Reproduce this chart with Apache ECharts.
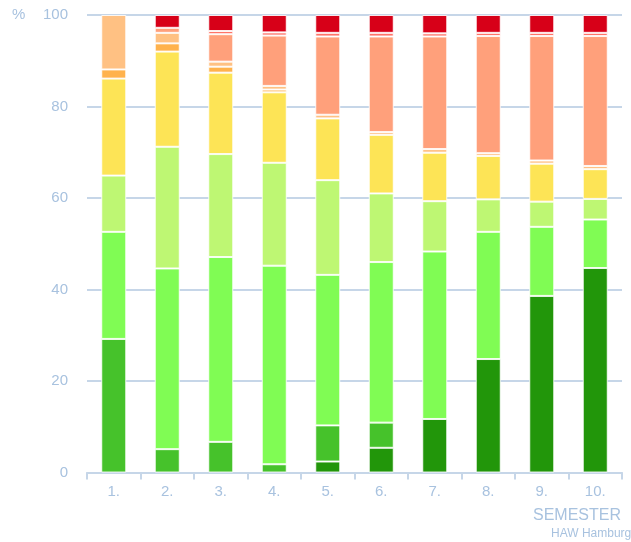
<!DOCTYPE html>
<html>
<head>
<meta charset="utf-8">
<script src="https://cdn.jsdelivr.net/npm/echarts@6/dist/echarts.min.js"></script>
<style>
  html, body { margin: 0; padding: 0; background: #ffffff; }
  #chart { width: 631px; height: 542px; }
</style>
</head>
<body>
<div id="chart"></div>
<script>
// Semesters on the x axis; shares in percent, stacked bottom -> top
const semesters = ['1.', '2.', '3.', '4.', '5.', '6.', '7.', '8.', '9.', '10.'];
const yTicks = [0, 20, 40, 60, 80, 100];

const darkGreen   = [0, 0, 0, 0, 2.4, 5.4, 11.7, 24.8, 38.6, 44.7];
const midGreen    = [29.2, 5.1, 6.7, 1.8, 7.9, 5.5, 0, 0, 0, 0];
const lightGreen  = [23.4, 39.5, 40.4, 43.4, 32.9, 35.1, 36.6, 27.8, 15.1, 10.6];
const yellowGreen = [12.3, 26.6, 22.5, 22.5, 20.7, 15.0, 11.0, 7.1, 5.5, 4.5];
const yellow      = [21.2, 20.8, 17.8, 15.4, 13.5, 12.8, 10.6, 9.5, 8.3, 6.5];
const orange      = [2.0, 1.8, 1.3, 0.6, 0, 0, 0, 0, 0, 0];
const lightOrange = [11.9, 2.3, 1.1, 0.8, 0.8, 0.6, 0.8, 0.6, 0.7, 0.7];
const salmon      = [0, 1.1, 6.0, 11.0, 17.1, 20.9, 24.6, 25.6, 27.2, 28.4];
const coral       = [0, 0, 0.7, 0.7, 0.8, 0.8, 0.7, 0.7, 0.7, 0.7];
const red         = [0, 2.8, 3.5, 3.8, 3.9, 3.9, 4.0, 3.9, 3.9, 3.9];

const stacks = [
  { name: 'darkGreen', data: darkGreen, color: '#22960a' },
  { name: 'midGreen', data: midGreen, color: '#46c22b' },
  { name: 'lightGreen', data: lightGreen, color: '#80fc54' },
  { name: 'yellowGreen', data: yellowGreen, color: '#bef773' },
  { name: 'yellow', data: yellow, color: '#fde456' },
  { name: 'orange', data: orange, color: '#ffb24c' },
  { name: 'lightOrange', data: lightOrange, color: '#ffc183' },
  { name: 'salmon', data: salmon, color: '#ffa07b' },
  { name: 'coral', data: coral, color: '#ff7468' },
  { name: 'red', data: red, color: '#d70018' },
];

const INK = '#a8c2df';
const LINE = '#c6d6e8';
const FONT = '"Liberation Sans", Arial, sans-serif';

const chart = echarts.init(document.getElementById('chart'), null, { renderer: 'canvas' });

chart.setOption({
  animation: false,
  textStyle: { fontFamily: FONT },
  grid: { left: 87, right: 9, top: 15, bottom: 69.5, containLabel: false },
  xAxis: {
    type: 'category',
    data: semesters,
    axisLine: { lineStyle: { color: LINE, width: 2 } },
    axisTick: { show: true, length: 7, lineStyle: { color: LINE, width: 2 } },
    axisLabel: { color: INK, fontSize: 15, margin: 12, fontFamily: FONT },
  },
  yAxis: {
    type: 'value',
    min: yTicks[0],
    max: yTicks[yTicks.length - 1],
    interval: yTicks[1] - yTicks[0],
    axisLine: { show: false },
    axisTick: { show: false },
    axisLabel: { color: INK, fontSize: 15, margin: 19, fontFamily: FONT },
    splitLine: { lineStyle: { color: LINE, width: 2 } },
  },
  series: stacks.map((s) => ({
    name: s.name,
    type: 'bar',
    stack: 'total',
    barWidth: 25,
    data: s.data.map((v) => (v ? v : null)),
    itemStyle: { color: s.color, borderColor: 'rgba(255,255,255,0.85)', borderWidth: 1 },
  })),
  graphic: [
    { type: 'text', left: 12, top: 7, style: { text: '%', fill: INK, font: '15px ' + FONT } },
    { type: 'text', left: 533, top: 508, style: { text: 'SEMESTER', fill: INK, font: '16px ' + FONT } },
    { type: 'text', left: 551, top: 528, style: { text: 'HAW Hamburg', fill: INK, font: '12px ' + FONT } },
  ],
});
</script>
</body>
</html>
